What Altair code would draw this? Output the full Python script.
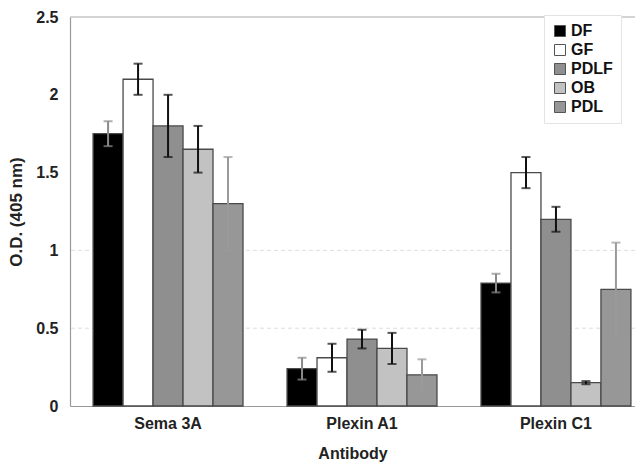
import altair as alt
import pandas as pd

antibodies = ["Sema 3A", "Plexin A1", "Plexin C1"]
groups = ["DF", "GF", "PDLF", "OB", "PDL"]
values = {
    "Sema 3A":   [1.75, 2.10, 1.80, 1.65, 1.30],
    "Plexin A1": [0.24, 0.31, 0.43, 0.37, 0.20],
    "Plexin C1": [0.79, 1.50, 1.20, 0.15, 0.75],
}
errors = {
    "Sema 3A":   [0.08, 0.10, 0.20, 0.15, 0.30],
    "Plexin A1": [0.07, 0.09, 0.06, 0.10, 0.10],
    "Plexin C1": [0.06, 0.10, 0.08, 0.01, 0.30],
}
fill_colors = ["#000000", "#ffffff", "#8f8f8f", "#c2c2c2", "#979797"]
err_colors = ["#8a8a8a", "#111111", "#111111", "#111111", "#9a9a9a"]

rows = []
for a in antibodies:
    for i, g in enumerate(groups):
        v = values[a][i]
        e = errors[a][i]
        rows.append({"antibody": a, "group": g, "od": v,
                     "lo": v - e, "hi": v + e, "ecol": err_colors[i]})
df = pd.DataFrame(rows)

font = "Liberation Sans"

x = alt.X("antibody:N", sort=antibodies,
          scale=alt.Scale(paddingInner=0.227, paddingOuter=0.07, align=0.85),
          axis=alt.Axis(title="Antibody", labelAngle=0, ticks=False,
                        labelFontWeight="bold", labelFontSize=16, labelFont=font,
                        labelColor="#222", labelPadding=9,
                        titleFont=font, titleFontSize=16, titleFontWeight="bold",
                        titleColor="#222", titlePadding=14,
                        domainColor="#999", domainWidth=1.2))
xo = alt.XOffset("group:N", sort=groups, scale=alt.Scale(paddingInner=0, paddingOuter=0))

base = alt.Chart(df)

bars = base.mark_bar(stroke="#4a4a4a", strokeWidth=1.3).encode(
    x=x, xOffset=xo,
    y=alt.Y("od:Q", scale=alt.Scale(domain=[0, 2.5], nice=False),
            axis=alt.Axis(title="O.D. (405 nm)", values=[0, 0.5, 1, 1.5, 2, 2.5],
                          format="~g", ticks=False, grid=False,
                          labelFont=font, labelFontSize=16, labelFontWeight="bold",
                          labelColor="#222", labelPadding=12,
                          titleFont=font, titleFontSize=17, titleFontWeight="bold",
                          titleColor="#222", titlePadding=10,
                          domainColor="#999", domainWidth=1.2)),
    fill=alt.Fill("group:N", sort=groups,
                  scale=alt.Scale(domain=groups, range=fill_colors),
                  legend=alt.Legend(title=None, orient="none", legendX=474, legendY=-2,
                                    labelFont=font, labelFontSize=16, labelFontWeight="bold",
                                    labelColor="#111", symbolType="square", symbolSize=121,
                                    symbolStrokeColor="#555", symbolStrokeWidth=1,
                                    rowPadding=3,
                                    fillColor="white", strokeColor="#e3e3e3",
                                    padding=8, labelOffset=3)),
)

rule = base.mark_rule(strokeWidth=2).encode(
    x=x, xOffset=xo, y="lo:Q", y2="hi:Q",
    color=alt.Color("ecol:N", scale=None),
)
tick_lo = base.mark_tick(thickness=2, size=9).encode(
    x=x, xOffset=xo, y="lo:Q", color=alt.Color("ecol:N", scale=None))
tick_hi = base.mark_tick(thickness=2, size=9).encode(
    x=x, xOffset=xo, y="hi:Q", color=alt.Color("ecol:N", scale=None))

grid_vals = pd.DataFrame({"g": [0.5, 1.0]})
grid = alt.Chart(grid_vals).mark_rule(color="#dddddd", strokeDash=[4, 3], strokeWidth=1).encode(
    y=alt.Y("g:Q"))
top = alt.Chart(pd.DataFrame({"t": [2.5]})).mark_rule(color="#aaaaaa", strokeWidth=1.2).encode(
    y=alt.Y("t:Q"))

chart = alt.layer(grid, top, bars, rule, tick_lo, tick_hi).properties(
    width=565, height=389,
    padding={"left": 62, "top": 9, "right": 0, "bottom": 56},
    autosize=alt.AutoSizeParams(type="none"),
    background="white",
).configure_view(stroke=None)

chart.save("out.html", embed_options={"renderer": "svg", "actions": False})
